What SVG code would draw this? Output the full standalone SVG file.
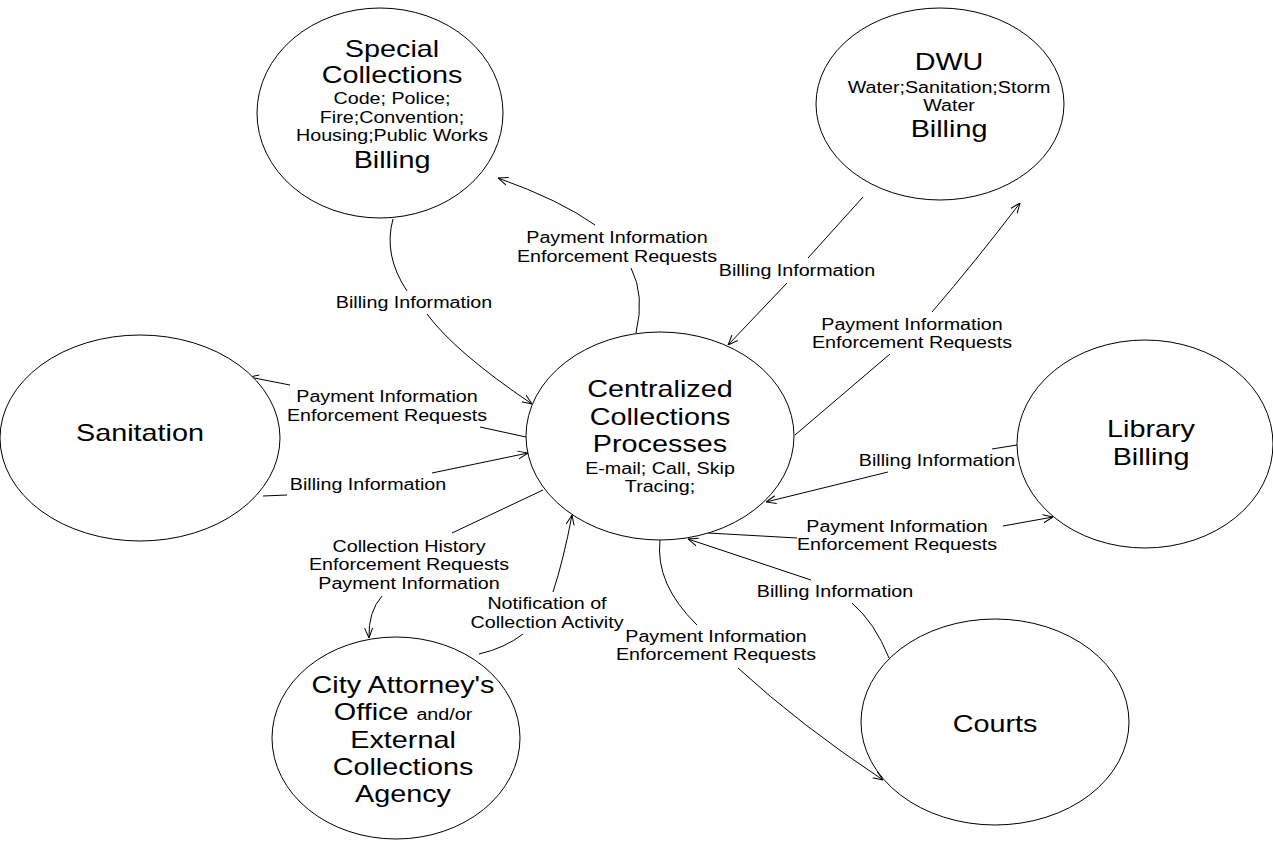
<svg xmlns="http://www.w3.org/2000/svg" width="1273" height="843" viewBox="0 0 1273 843">
<style>
.node ellipse { fill: #ffffff; stroke: #000000; stroke-width: 1; }
text { font-family: "Liberation Sans", Arial, sans-serif; fill: #000000; text-anchor: middle; }
.big { font-size: 23.4px; }
.sm { font-size: 16px; }
.conn path { fill: none; stroke: #000000; stroke-width: 1; }
</style>
<defs>
<marker id="arr" viewBox="0 0 10 10" refX="10" refY="5" markerWidth="10" markerHeight="10" markerUnits="userSpaceOnUse" orient="auto">
<path d="M0,1 L10,5 L0,9" fill="none" stroke="#000000" stroke-width="1"/>
</marker>
</defs>
<rect width="1273" height="843" fill="#ffffff"/>

<g id="connectors" class="conn">
  <path d="M393,219 Q383,255 407,291"/>
  <path d="M427,314 Q455,352 532,404" marker-end="url(#arr)"/>
  <path d="M636,333 Q645,295 631,268"/>
  <path d="M595,225 Q560,200 498,178" marker-end="url(#arr)"/>
  <path d="M863,197 L808,258"/>
  <path d="M787,283 L728,345" marker-end="url(#arr)"/>
  <path d="M795,435 L890,354"/>
  <path d="M932,312 Q975,262 1020,203" marker-end="url(#arr)"/>
  <path d="M526,437 L480,427"/>
  <path d="M290,385 L249,377" marker-end="url(#arr)"/>
  <path d="M263,496 L287,495"/>
  <path d="M432,473 L528,453" marker-end="url(#arr)"/>
  <path d="M543,490 L452,533"/>
  <path d="M382,596 Q368,612 369,638" marker-end="url(#arr)"/>
  <path d="M479,654 Q505,648 523,634"/>
  <path d="M553,592 Q563.5,560 572,515" marker-end="url(#arr)"/>
  <path d="M1017,445 L992,449"/>
  <path d="M888,472 L766,502" marker-end="url(#arr)"/>
  <path d="M708,533 L797,538"/>
  <path d="M1003,526 L1053,517" marker-end="url(#arr)"/>
  <path d="M889,658 Q875,623 852,603"/>
  <path d="M811,580 L688,539" marker-end="url(#arr)"/>
  <path d="M660,540 Q655,584 697,625"/>
  <path d="M738,668 Q800,725 883,780" marker-end="url(#arr)"/>
</g>

<g id="labels">
  <text class="sm" transform="translate(617,0) scale(1.23,1)"><tspan x="0" y="243">Payment Information</tspan><tspan x="0" y="262">Enforcement Requests</tspan></text>
  <text class="sm" transform="translate(414,0) scale(1.23,1)"><tspan x="0" y="308">Billing Information</tspan></text>
  <text class="sm" transform="translate(797,0) scale(1.23,1)"><tspan x="0" y="276">Billing Information</tspan></text>
  <text class="sm" transform="translate(912,0) scale(1.23,1)"><tspan x="0" y="330">Payment Information</tspan><tspan x="0" y="348">Enforcement Requests</tspan></text>
  <text class="sm" transform="translate(387,0) scale(1.23,1)"><tspan x="0" y="402">Payment Information</tspan><tspan x="0" y="421">Enforcement Requests</tspan></text>
  <text class="sm" transform="translate(368,0) scale(1.23,1)"><tspan x="0" y="490">Billing Information</tspan></text>
  <text class="sm" transform="translate(937,0) scale(1.23,1)"><tspan x="0" y="466">Billing Information</tspan></text>
  <text class="sm" transform="translate(897,0) scale(1.23,1)"><tspan x="0" y="532">Payment Information</tspan><tspan x="0" y="550">Enforcement Requests</tspan></text>
  <text class="sm" transform="translate(835,0) scale(1.23,1)"><tspan x="0" y="597">Billing Information</tspan></text>
  <text class="sm" transform="translate(716,0) scale(1.23,1)"><tspan x="0" y="642">Payment Information</tspan><tspan x="0" y="660">Enforcement Requests</tspan></text>
  <text class="sm" transform="translate(409,0) scale(1.23,1)"><tspan x="0" y="552">Collection History</tspan><tspan x="0" y="570">Enforcement Requests</tspan><tspan x="0" y="589">Payment Information</tspan></text>
  <text class="sm" transform="translate(547,0) scale(1.23,1)"><tspan x="0" y="609">Notification of</tspan><tspan x="0" y="628">Collection Activity</tspan></text>
</g>

<g id="special-collections" class="node">
  <ellipse cx="380" cy="113" rx="123" ry="105"/>
  <text transform="translate(392,0) scale(1.23,1)"><tspan class="big" x="0" y="57">Special</tspan><tspan class="big" x="0" y="83">Collections</tspan><tspan class="sm" x="0" y="104">Code; Police;</tspan><tspan class="sm" x="0" y="123">Fire;Convention;</tspan><tspan class="sm" x="0" y="141">Housing;Public Works</tspan><tspan class="big" x="0" y="168">Billing</tspan></text>
</g>

<g id="dwu" class="node">
  <ellipse cx="940" cy="104" rx="124" ry="96"/>
  <text transform="translate(949,0) scale(1.23,1)"><tspan class="big" x="0" y="70">DWU</tspan><tspan class="sm" x="0" y="93">Water;Sanitation;Storm</tspan><tspan class="sm" x="0" y="111">Water</tspan><tspan class="big" x="0" y="137">Billing</tspan></text>
</g>

<g id="centralized" class="node">
  <ellipse cx="660" cy="436" rx="134" ry="104"/>
  <text transform="translate(660,0) scale(1.23,1)"><tspan class="big" x="0" y="397">Centralized</tspan><tspan class="big" x="0" y="425">Collections</tspan><tspan class="big" x="0" y="452">Processes</tspan><tspan class="sm" x="0" y="474">E-mail; Call, Skip</tspan><tspan class="sm" x="0" y="492">Tracing;</tspan></text>
</g>

<g id="sanitation" class="node">
  <ellipse cx="140" cy="438" rx="140" ry="103"/>
  <text class="big" transform="translate(140,0) scale(1.23,1)"><tspan x="0" y="441">Sanitation</tspan></text>
</g>

<g id="library" class="node">
  <ellipse cx="1145" cy="444" rx="128" ry="104"/>
  <text class="big" transform="translate(1151,0) scale(1.23,1)"><tspan x="0" y="437">Library</tspan><tspan x="0" y="465">Billing</tspan></text>
</g>

<g id="courts" class="node">
  <ellipse cx="995" cy="722" rx="134" ry="103"/>
  <text class="big" transform="translate(995,0) scale(1.23,1)"><tspan x="0" y="732">Courts</tspan></text>
</g>

<g id="city-attorney" class="node">
  <ellipse cx="396" cy="738" rx="124" ry="101"/>
  <text transform="translate(403,0) scale(1.23,1)"><tspan class="big" x="0" y="693">City Attorney's</tspan><tspan class="big" x="0" y="720">Office </tspan><tspan class="sm">and/or</tspan><tspan class="big" x="0" y="748">External</tspan><tspan class="big" x="0" y="775">Collections</tspan><tspan class="big" x="0" y="802">Agency</tspan></text>
</g>
</svg>
